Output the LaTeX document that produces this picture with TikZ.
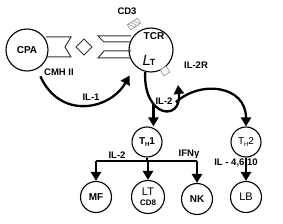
\documentclass[tikz,border=0pt]{standalone}
\usepackage{fontspec}
\setmainfont{Liberation Sans}
\usetikzlibrary{arrows.meta,calc}

\begin{document}
\begin{tikzpicture}[x=1pt,y=-1pt,
  cell/.style={draw, circle, line width=1.1pt, inner sep=0pt, align=center, font=\bfseries\fontsize{10}{11}\selectfont},
  lab/.style={font=\bfseries\fontsize{9.5}{10}\selectfont},
  arr/.style={-{Triangle[length=9pt,width=10pt]}, line width=2.3pt},
  bar/.style={line width=2.3pt},
  recep/.style={line width=1pt, draw=black!80, line join=miter},
  tagbox/.style={line width=0.6pt, draw=black!45, fill=white}
]
\useasboundingbox (0,0) rectangle (283,224);

% cells
\node[cell, minimum size=42pt] (cpa) at (27,50) {CPA};
\node[cell, minimum size=44pt] (lt) at (151,50) {};
\node[font=\bfseries\fontsize{10}{11}\selectfont] (tcr) at (154,36) {TCR};
\node (ltlab) at (149,60) {\fontsize{15}{15}\selectfont\itshape L\kern-1pt\raisebox{0pt}{\upshape\bfseries\fontsize{9}{9}\selectfont T}};
\node[cell, minimum size=30pt] (th1) at (147,142) {T\raisebox{-0.5ex}{\fontsize{6}{6}\selectfont H}1};
\node[cell, minimum size=30pt] (th2) at (246,142) {\mdseries T\raisebox{-0.5ex}{\fontsize{6}{6}\selectfont H}2};
\node[cell, minimum size=31pt] (mf) at (96,197) {MF};
\node[cell, minimum size=33pt] (ltcd8) at (148,197) {\mdseries\fontsize{11}{11}\selectfont LT\\[-1pt]\bfseries\fontsize{8}{8}\selectfont CD8};
\node[cell, minimum size=31pt] (nk) at (197,199) {\raisebox{-3pt}{NK}};
\node[cell, minimum size=31pt] (lb) at (246,197) {\mdseries\fontsize{11}{11}\selectfont LB};

% receptors between CPA and LT
\draw[recep] (46,37) -- (71,37) -- (65,47) -- (71,57) -- (46,57);
\draw[recep] (84,39) -- (92,47) -- (84,55) -- (76,47) -- cycle;
\draw[recep] (131,36) -- (98,36) -- (104,42) -- (131,42);
\draw[recep] (131,51) -- (104,51) -- (98,58) -- (131,58);

% CD3 and IL-2R markers
\begin{scope}[shift={(134,24)}, rotate=33]
  \draw[tagbox] (-6,-3) rectangle (6,3);
  \foreach \i in {-3,0,3}
    \draw[black!45, line width=0.5pt] (\i-2,-3) -- (\i+2,3);
\end{scope}
\node[tagbox, draw, minimum size=7pt, inner sep=0pt, rotate=33] (il2r) at (165,71) {};

% labels
\node[lab] (cd3) at (127,11) {CD3};
\node[lab] (cmh) at (59,72) {CMH II};
\node[lab] (il1) at (91,97) {IL-1};
\node[lab] (il2rlab) at (196,65) {IL-2R};
\node[lab] (il2a) at (164,101) {IL-2};
\node[lab] (il2b) at (117,155) {IL-2};
\node[lab] (ifn) at (189,154) {IFNγ};
\node[lab] (il4) at (236,163) {IL - 4,6,10};

% connectors
\draw[arr, shorten <=8pt, shorten >=11pt] (cpa.-62) .. controls (60,120) and (110,110) .. (lt.225);
\draw[arr] (lt.-105) .. controls (143,118) and (182,122) .. coordinate[pos=0.33] (drop) coordinate[pos=0.8] (fork) (178,85);
\draw[arr] (drop) -- (drop |- th1.north);
\draw[arr] (fork) .. controls (200,80) and (246,85) .. (th2.north);

\coordinate (split) at (147,161);
\draw[bar] (th1.south) -- (split);
\draw[bar] (mf.north |- split) -- (nk.north |- split);
\foreach \c in {mf,ltcd8,nk}
  \draw[arr] (\c.north |- split) -- (\c.north);
\draw[arr] (th2.south) -- (lb.north);
\end{tikzpicture}
\end{document}
